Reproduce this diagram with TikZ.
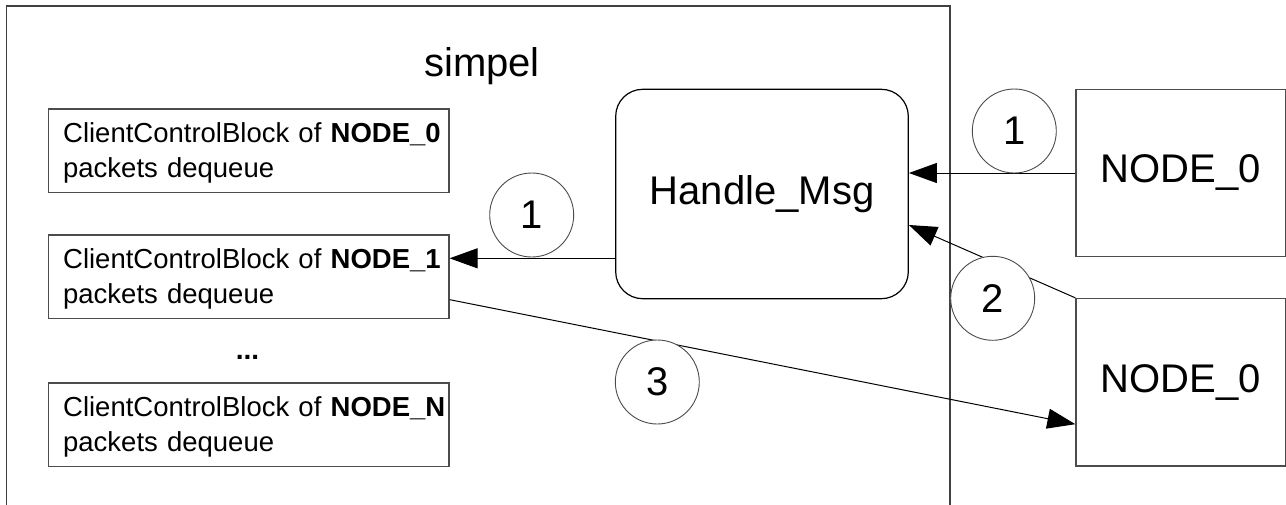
\documentclass[tikz,border=0pt]{standalone}
\usepackage{fontspec}
\setmainfont{Liberation Sans}
\usetikzlibrary{arrows.meta}
\begin{document}
\begin{tikzpicture}[x=1pt,y=-1pt,
  frame/.style={draw=black!75, line width=1.3pt},
  cbbox/.style={draw=black!70, line width=1.3pt, text width=371pt, inner xsep=14.8pt, inner ysep=0pt,
    minimum height=83.4pt, align=left, font=\fontsize{27.5}{35}\selectfont, anchor=north west},
  bignode/.style={draw=black!70, line width=1.3pt, minimum width=209.3pt, minimum height=167.4pt,
    inner sep=0pt, font=\fontsize{40}{48}\selectfont},
  handlebox/.style={draw=black, line width=1.2pt, rounded corners=27pt, minimum width=292.6pt,
    minimum height=209.4pt, inner sep=0pt, font=\fontsize{40}{48}\selectfont},
  num/.style={circle, draw=black!70, line width=0.9pt, fill=white, minimum size=84pt, inner sep=0pt,
    font=\fontsize{40}{48}\selectfont},
  conn/.style={draw=black, line width=1pt, -{Triangle[length=28pt,width=20pt]}},
]
\useasboundingbox (0,0) rectangle (1286,504);
\clip (0,0) rectangle (1286,504);
\fill[white] (0,0) rectangle (1286,504);

% container frame (bottom edge lies below the picture)
\draw[frame] (6.7,6) rectangle (950,560);
\node[font=\fontsize{40}{48}\selectfont, anchor=base] (title) at (482,76) {simpel};

% client control blocks
\node[cbbox] (cb0) at (47.7,108.3) {\rule{0pt}{25pt}\mbox{ClientControlBlock of \textbf{NODE\_0}}\\packets dequeue};
\node[cbbox] (cb1) at (47.7,234.3) {\rule{0pt}{25pt}\mbox{ClientControlBlock of \textbf{NODE\_1}}\\packets dequeue};
\node[font=\fontsize{28}{33}\selectfont\bfseries, inner sep=0pt] (dots) at (247.5,357) {...};
\node[cbbox] (cbN) at (47.7,382.3) {\rule{0pt}{25pt}\mbox{ClientControlBlock of \textbf{NODE\_N}}\\packets dequeue};

% handler and external nodes
\node[handlebox] (hm) at (762,194) {Handle\_Msg};
\node[bignode] (na) at (1180.65,173) {NODE\_0};
\node[bignode] (nb) at (1180.65,382.2) {NODE\_0};

% connectors
\coordinate (b1in) at ([yshift=-24pt]cb1.north east);
\draw[conn] (hm.west |- b1in) -- (b1in);
\draw[conn] (na.west) -- (hm.east |- na.west);
\draw[conn] (nb.north west) -- ([yshift=-31pt]hm.east);
\draw[conn] ([yshift=-23pt]cb1.east) -- ([yshift=-42pt]nb.west);

% step numbers
\node[num] (c1a) at (531.7,215) {1};
\node[num] (c1b) at (1014.3,131) {1};
\node[num] (c2) at (992.7,298.3) {2};
\node[num] (c3) at (657.3,382) {3};
\end{tikzpicture}
\end{document}
